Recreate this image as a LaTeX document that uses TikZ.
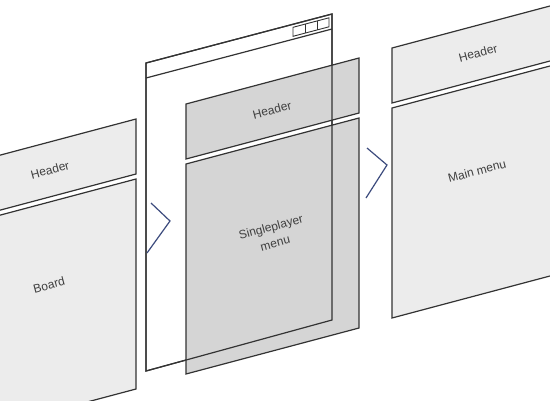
\documentclass[tikz,border=0pt]{standalone}
\usepackage{fontspec}
\setmainfont{Liberation Sans}
\definecolor{edgec}{HTML}{333333}
\definecolor{lightp}{HTML}{ECECEC}
\definecolor{darkp}{HTML}{D5D5D5}
\definecolor{txtc}{HTML}{3F3F3F}
\definecolor{chev}{HTML}{3D4C7E}
\tikzset{
  panelA/.style={draw=edgec, fill=lightp, line width=1.2pt, line join=miter},
  panelB/.style={draw=edgec, fill=darkp, line width=1.2pt, line join=miter},
  framec/.style={draw=edgec, line width=1.2pt},
  lbl/.style={text=txtc, rotate=15, font=\fontsize{12}{16.5}\selectfont, align=center, inner sep=0pt},
  chevron/.style={draw=chev, line width=1.2pt, line join=miter},
}
\newcommand{\mypanel}[3]{%
  \draw[#3] (#1,#2) -- ++(173,-46) -- ++(0,55) -- ++(-173,46) -- cycle;
  \draw[#3] (#1,#2+60) -- ++(173,-46) -- ++(0,210) -- ++(-173,46) -- cycle;
}
\begin{document}
\begin{tikzpicture}[x=1pt,y=-1pt]
\useasboundingbox (0,0) rectangle (550,400);
\clip (0,0) rectangle (550,400);
% left group
\mypanel{-37}{165}{panelA}
\node[lbl] (hdrL) at (50,170) {Header};
\node[lbl] (board) at (49,285) {Board};
% middle group
\draw[framec, fill=white] (146,63) -- (332,14) -- (332,320) -- (146,371) -- cycle;
\mypanel{186}{104}{panelB}
\draw[framec] (146,63) -- (332,14) -- (332,320) -- (146,371) -- cycle;
\draw[framec] (146,78) -- (332,29);
% window buttons
\draw[edgec, line width=0.9pt] (293,27.3) -- (329,17.8) -- (329,26.8) -- (293,36.3) -- cycle;
\draw[edgec, line width=0.9pt] (305,24.1) -- (305,33.1);
\draw[edgec, line width=0.9pt] (317,21.0) -- (317,30.0);
\node[lbl] (hdrM) at (272,110) {Header};
\node[lbl] (single) at (273,235) {Singleplayer\\menu};
% right group
\mypanel{392}{48}{panelA}
\node[lbl] (hdrR) at (478,53) {Header};
\node[lbl] (mainm) at (477,171) {Main menu};
% chevrons
\coordinate (c1a) at (151,203);
\coordinate (c1b) at (170,221);
\coordinate (c1c) at (147,253);
\draw[chevron] (c1a) -- (c1b) -- (c1c);
\coordinate (c2a) at (367,148);
\coordinate (c2b) at (387,165);
\coordinate (c2c) at (366,198);
\draw[chevron] (c2a) -- (c2b) -- (c2c);
\end{tikzpicture}
\end{document}
